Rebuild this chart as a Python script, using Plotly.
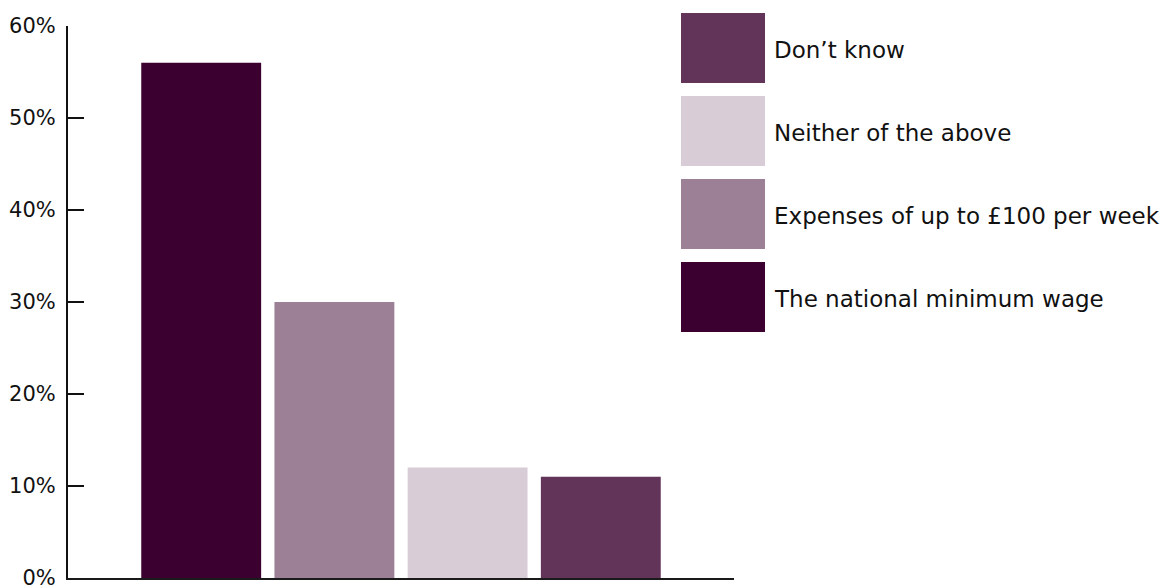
import plotly.graph_objects as go

# Survey responses: share of respondents choosing each option
categories = [
    "The national minimum wage",
    "Expenses of up to £100 per week",
    "Neither of the above",
    "Don’t know",
]
values = [56, 30, 12, 11]
colors = ["#3c0030", "#9c8096", "#d8ccd6", "#62345a"]
tick_values = [0, 10, 20, 30, 40, 50, 60]
tick_labels = ["0%", "10%", "20%", "30%", "40%", "50%", "60%"]

W, H = 1167, 588
L, R, T, B = 68, 433, 26, 10
plot_w = W - L - R
plot_h = H - T - B

FONT = "DejaVu Sans"

fig = go.Figure()
for i, (cat, val, col) in enumerate(zip(categories, values, colors)):
    fig.add_trace(go.Bar(
        x=[i], y=[val], name=cat, width=0.9,
        marker=dict(color=col, line=dict(width=0)),
        showlegend=False,
        hovertemplate=f"{cat}: %{{y}}%<extra></extra>",
    ))


def px_x(px):
    return (px - L) / plot_w


def px_y(py):
    return (H - B - py) / plot_h


# Legend: large colour swatches with labels, listed in reverse order
sw_left, sw_right, sw_h, row_top, row_step = 681, 765, 70, 13, 83
for k, idx in enumerate(reversed(range(len(categories)))):
    top = row_top + k * row_step
    fig.add_shape(
        type="rect", xref="paper", yref="paper",
        x0=px_x(sw_left), x1=px_x(sw_right),
        y0=px_y(top + sw_h), y1=px_y(top),
        fillcolor=colors[idx], line=dict(width=0),
    )
    fig.add_annotation(
        xref="paper", yref="paper",
        x=px_x(sw_right + 7), y=px_y(top + sw_h / 2 + 2),
        xanchor="left", yanchor="middle", showarrow=False,
        text=categories[idx],
        font=dict(family=FONT, size=23, color="#111111"),
    )

fig.update_layout(
    width=W, height=H,
    margin=dict(l=L, r=R, t=T, b=B, pad=0, autoexpand=False),
    paper_bgcolor="white", plot_bgcolor="white",
    bargap=0.1,
    font=dict(family=FONT, size=21, color="#111111"),
    xaxis=dict(
        range=[-1, 4], showticklabels=False, ticks="",
        showgrid=False, zeroline=False, automargin=False,
        showline=True, linecolor="#1a1a1a", linewidth=2,
    ),
    yaxis=dict(
        range=[0, 60], tickvals=tick_values, ticktext=tick_labels,
        ticks="inside", ticklen=16, tickwidth=2, tickcolor="#111111",
        showgrid=False, zeroline=False, automargin=False,
        showline=True, linecolor="#111111", linewidth=2,
        ticklabelstandoff=6, ticklabeloverflow="allow",
        tickfont=dict(family=FONT, size=21, color="#111111"),
    ),
)

fig.write_html("out.html")
